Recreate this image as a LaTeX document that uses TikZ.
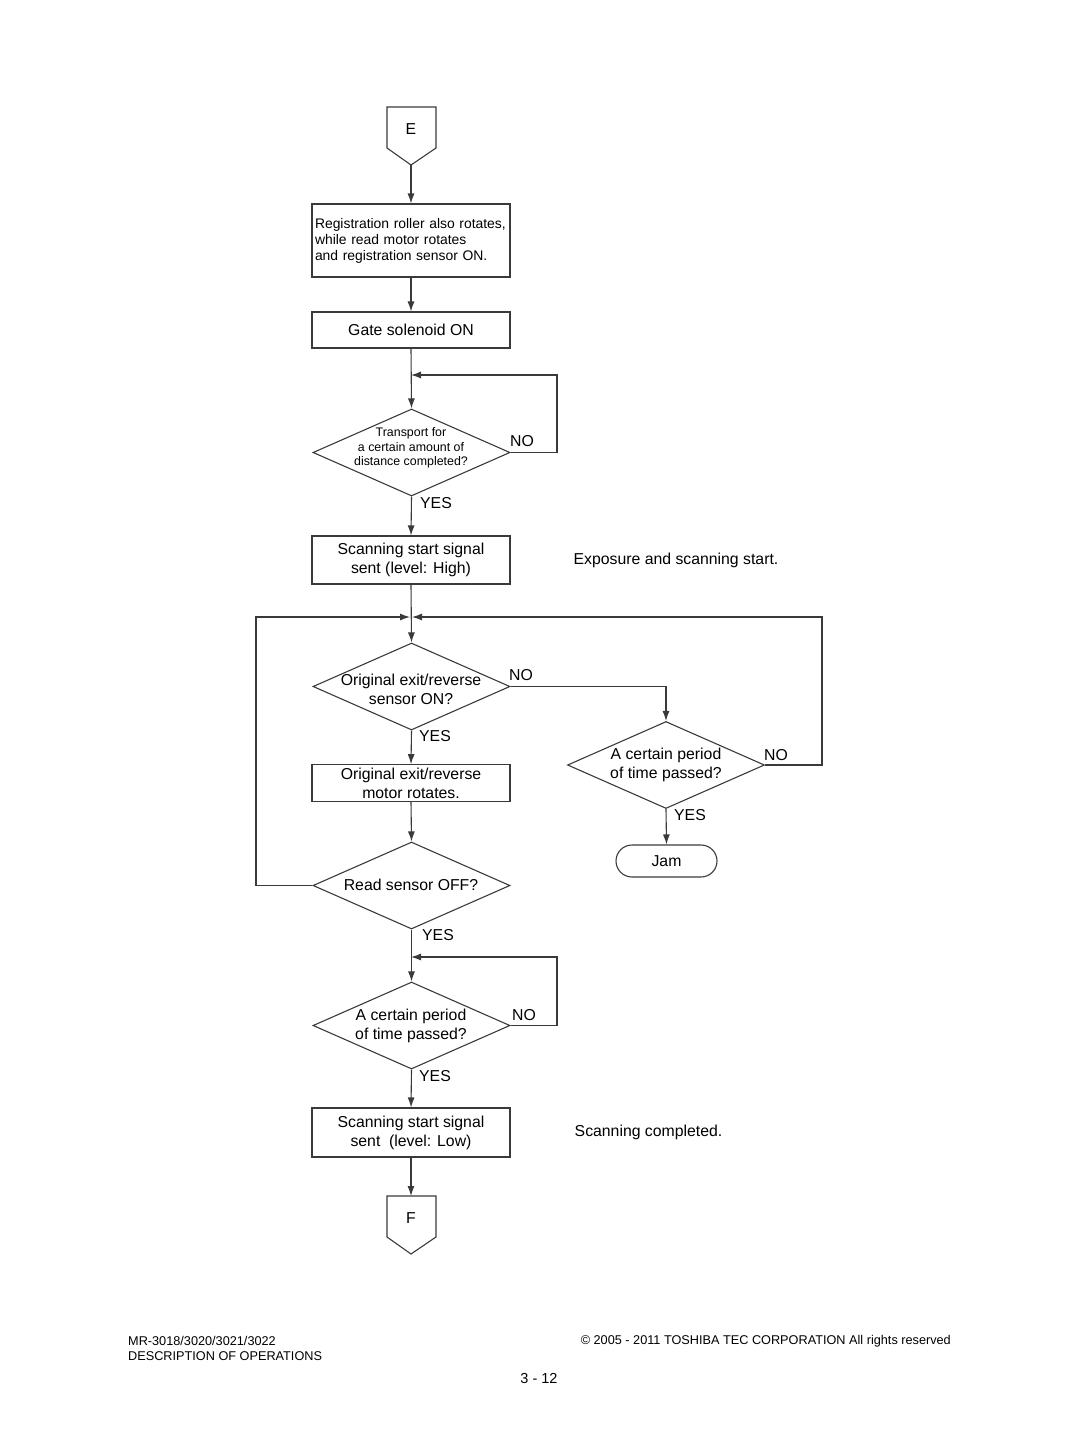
\documentclass[tikz,border=0pt]{standalone}
\usepackage{fontspec}
\setmainfont{Liberation Sans}
\usetikzlibrary{shapes.geometric,arrows.meta}
\definecolor{ln}{HTML}{3A3A3A}
\tikzset{
  ln/.style={draw=ln,line width=1.1pt},
  arr/.style={ln,-{Latex[length=10pt,width=7pt]}},
  boxnode/.style={ln,rectangle,minimum width=198pt,inner sep=3pt,font=\fontsize{15.8}{19}\selectfont,align=center},
  dia/.style={ln,diamond,minimum width=197pt,minimum height=87pt,inner sep=0pt},
  dtext/.style={font=\fontsize{15.8}{19}\selectfont,align=center,inner sep=0pt},
  lbl/.style={font=\fontsize{15.8}{19}\selectfont,inner sep=0pt},
  foot/.style={font=\fontsize{12.7}{15}\selectfont,inner sep=0pt}
}
\begin{document}
\begin{tikzpicture}[x=1pt,y=-1pt]
\useasboundingbox (0,0) rectangle (1080,1437);
% E connector
\draw[ln] (387,107) -- (436,107) -- (436,148) -- (411,165) -- (387,148) -- cycle;
\node[lbl] (E) at (411,129) {E};
\coordinate (Etip) at (411,165);
% box1
\node[ln,rectangle,minimum width=198pt,minimum height=73pt,text width=192pt,inner sep=3pt,align=left,font=\fontsize{13.9}{16}\selectfont] (b1) at (411,240.5)
 {Registration roller also rotates,\\while read motor rotates\\and registration sensor ON.};
\draw[arr] (Etip) -- (b1.north);
% box2
\node[boxnode,minimum height=36pt] (b2) at (411,330) {Gate solenoid ON};
\draw[arr] (b1.south) -- (b2.north);
% diamond1
\node[dia] (d1) at (411.5,452.5) {};
\node[dtext,font=\fontsize{12.4}{14.5}\selectfont] (d1t) at (411,448) {Transport for\\a certain amount of\\distance completed?};
\coordinate (j1) at (411,375);
\draw[arr] (b2.south) -- (d1.north);
\draw[arr] (d1.east) -- (557,452.5) |- (j1);
\node[lbl] (no1) at (522,441) {NO};
\node[lbl] (yes1) at (436,503) {YES};
% box3
\node[boxnode,minimum height=48pt] (b3) at (411,560) {Scanning start signal\\sent (level: High)};
\draw[arr] (d1.south) -- (b3.north);
\node[lbl] (n1) at (676,560) {Exposure and scanning start.};
% diamond2
\coordinate (j2) at (411,617);
\node[dia] (d2) at (411.5,686.5) {};
\node[dtext] (d2t) at (411,689.5) {Original exit/reverse\\sensor ON?};
\draw[arr] (b3.south) -- (d2.north);
\node[lbl] (no2) at (521,675) {NO};
\node[lbl] (yes2) at (435,736) {YES};
% box4
\node[boxnode,minimum height=36pt] (b4) at (411,783) {Original exit/reverse\\motor rotates.};
\draw[arr] (d2.south) -- (b4.north);
% diamond3
\node[dia] (d3) at (666,765) {};
\node[dtext] (d3t) at (666,764.5) {A certain period\\of time passed?};
\draw[arr] (d2.east) -| (d3.north);
\node[lbl] (no3) at (776,755) {NO};
\node[lbl] (yes3) at (690,815) {YES};
\draw[arr] (d3.east) -- (822,765) |- ([xshift=1pt]j2);
% Jam
\node[ln,rectangle,rounded corners=16pt,minimum width=101pt,minimum height=32pt,inner sep=0pt,font=\fontsize{15.8}{19}\selectfont] (jam) at (666.5,861) {Jam};
\draw[arr] (d3.south) -- (jam.north);
% diamond4
\node[dia] (d4) at (411.5,885.5) {};
\node[dtext] (d4t) at (411,885) {Read sensor OFF?};
\draw[arr] (b4.south) -- (d4.north);
\draw[arr] (d4.west) -- (256,885.5) |- ([xshift=-1pt]j2);
\node[lbl] (yes4) at (438,935) {YES};
% diamond5
\node[dia] (d5) at (411.5,1025.5) {};
\node[dtext] (d5t) at (411,1025.5) {A certain period\\of time passed?};
\coordinate (j3) at (411,957);
\draw[arr] (d4.south) -- (d5.north);
\draw[arr] (d5.east) -- (557,1025.5) |- (j3);
\node[lbl] (no5) at (524,1015) {NO};
\node[lbl] (yes5) at (435,1076) {YES};
% box5
\node[boxnode,minimum height=49pt] (b5) at (411,1132.5) {Scanning start signal\\sent\ \ (level: Low)};
\draw[arr] (d5.south) -- (b5.north);
\node[lbl] (n2) at (648.5,1132) {Scanning completed.};
% F connector
\draw[ln] (387,1196) -- (436,1196) -- (436,1237) -- (411,1254) -- (387,1237) -- cycle;
\node[lbl] (F) at (411,1218) {F};
\coordinate (Ftop) at (411,1196);
\draw[arr] (b5.south) -- (Ftop);
% footer
\node[foot,anchor=west] (f1) at (128,1341) {MR-3018/3020/3021/3022};
\node[foot,anchor=west] (f2) at (128,1356) {DESCRIPTION OF OPERATIONS};
\node[foot,anchor=east] (f3) at (951,1341) {© 2005 - 2011 TOSHIBA TEC CORPORATION All rights reserved};
\node[foot,font=\fontsize{14.5}{17}\selectfont] (f4) at (539,1378) {3 - 12};
\end{tikzpicture}
\end{document}
